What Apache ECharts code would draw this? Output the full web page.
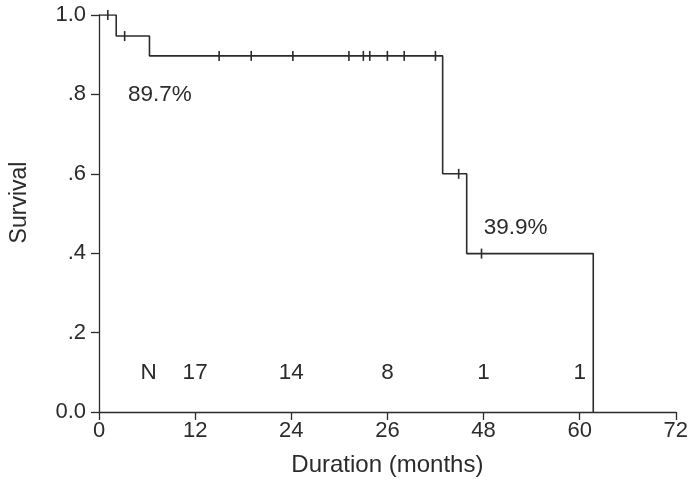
<!DOCTYPE html>
<html>
<head>
<meta charset="utf-8">
<script src="https://cdn.jsdelivr.net/npm/echarts@6/dist/echarts.min.js"></script>
<style>
  html, body { margin: 0; padding: 0; background: #fff; }
  #chart { width: 691px; height: 492px; }
</style>
</head>
<body>
<div id="chart"></div>
<script>
// Kaplan-Meier steps (months, survival)
var stepTimes = [0, 2.15, 6.3, 42.9, 45.9, 61.7];
var stepSurv  = [1.0, 0.947, 0.897, 0.6, 0.399, 0.399];
var endTime = 61.7;
// censored observations (months)
var censorTimes = [1.1, 3.2, 15.0, 19.0, 24.2, 31.2, 33.0, 33.8, 36.0, 38.1, 42.0, 44.9, 47.75];
// x tick labels as printed (36 printed as "26")
var xTickLabels = { 0: '0', 12: '12', 24: '24', 36: '26', 48: '48', 60: '60', 72: '72' };
var yTickLabels = { 0: '0.0', 0.2: '.2', 0.4: '.4', 0.6: '.6', 0.8: '.8', 1: '1.0' };
// numbers at risk
var riskTimes  = [6.2, 12, 24, 36, 48, 60];
var riskLabels = ['N', '17', '14', '8', '1', '1'];
// survival annotations
var annotations = [
  { t: 7.6, s: 0.80, text: '89.7%' },
  { t: 52.0, s: 0.463, text: '39.9%' }
];

var ink = '#2b2b2b';
var font = 'Liberation Sans, Arial, sans-serif';

function survAt(t) {
  var v = stepSurv[0];
  for (var i = 0; i < stepTimes.length; i++) {
    if (stepTimes[i] <= t) v = stepSurv[i];
  }
  return v;
}

var curve = stepTimes.map(function (t, i) { return [t, stepSurv[i]]; });
curve.push([endTime, 0]);

var textLabel = {
  show: true, position: 'inside', formatter: '{b}',
  color: ink, fontSize: 22.5, fontFamily: font, textBorderWidth: 0
};

var chart = echarts.init(document.getElementById('chart'));
chart.setOption({
  animation: false,
  grid: { left: 97, right: 13, top: 15, bottom: 80 },
  xAxis: {
    type: 'value', min: 0, max: 72, interval: 12,
    name: 'Duration (months)', nameLocation: 'middle', nameGap: 41,
    nameTextStyle: { color: ink, fontSize: 24, fontFamily: font },
    axisLine: { lineStyle: { color: ink, width: 1.3 } },
    axisTick: { length: 8, lineStyle: { color: ink, width: 1.3 } },
    axisLabel: {
      color: ink, fontSize: 22, fontFamily: font, margin: 8,
      formatter: function (v) { return xTickLabels[v] != null ? xTickLabels[v] : ''; }
    },
    splitLine: { show: false }
  },
  yAxis: {
    type: 'value', min: 0, max: 1, interval: 0.2,
    name: 'Survival', nameLocation: 'middle', nameGap: 68,
    nameTextStyle: { color: ink, fontSize: 23, fontFamily: font, padding: [0, 0, 0, 22] },
    axisLine: { show: true, lineStyle: { color: ink, width: 1.3 } },
    axisTick: { show: true, length: 8, lineStyle: { color: ink, width: 1.3 } },
    axisLabel: {
      color: ink, fontSize: 22, fontFamily: font, margin: 13,
      formatter: function (v) {
        var k = Math.round(v * 10) / 10;
        return yTickLabels[k] != null ? yTickLabels[k] : '';
      }
    },
    splitLine: { show: false }
  },
  series: [
    {
      type: 'line', step: 'end', data: curve, symbol: 'none',
      lineStyle: { color: ink, width: 1.6 }
    },
    {
      type: 'scatter',
      data: censorTimes.map(function (t) { return [t, survAt(t)]; }),
      symbol: 'rect', symbolSize: [1.6, 10],
      itemStyle: { color: ink, opacity: 1 }
    },
    {
      type: 'scatter',
      data: riskTimes.map(function (t, i) { return { value: [t, 0.098], name: riskLabels[i] }; }),
      symbolSize: 0,
      itemStyle: { opacity: 1 },
      label: textLabel
    },
    {
      type: 'scatter',
      data: annotations.map(function (a) { return { value: [a.t, a.s], name: a.text }; }),
      symbolSize: 0,
      itemStyle: { opacity: 1 },
      label: textLabel
    }
  ]
});
</script>
</body>
</html>
